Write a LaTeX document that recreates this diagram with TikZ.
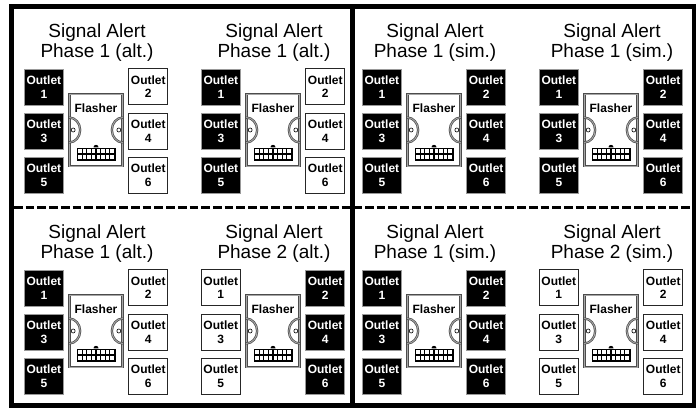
\documentclass[tikz,border=0pt]{standalone}
\usepackage{fontspec}
\setmainfont{Liberation Sans}
\usetikzlibrary{positioning}
\tikzset{
    outlet/.style={minimum width=39pt,minimum height=36pt,inner sep=0pt,align=center,
                   font=\fontsize{12}{13.5}\selectfont\bfseries},
    outletblack/.style={outlet,fill=black,draw=black!40,line width=.5pt,text=white},
    outletwhite/.style={outlet,fill=white,draw=black!85,line width=.8pt,text=black},
    flasher/.style={minimum width=53pt,minimum height=72pt,inner sep=0pt,fill=white,
                    flasherline},
    flasherline/.style={draw=black!70,line width=.7pt,double=black!35,double distance=.9pt},
    flashertext/.style={inner sep=0pt,font=\fontsize{12}{13.5}\selectfont\bfseries},
    socket/.style={minimum width=39pt,minimum height=13pt,inner sep=0pt,fill=black},
    title/.style={inner sep=0pt,align=center,font=\fontsize{19}{20.5}\selectfont},
    bay/.style={draw=black,line width=.6pt,fill=white,circle,minimum size=4pt,inner sep=0pt}
}
\newcommand{\alertpanel}[6]{
    \node [flasher]     (#1flasher) at (#2,#3)                                {};
    \node [flashertext] (#1text)    at ([yshift=22pt]#1flasher.center)        {Flasher};
    \node [socket]      (#1socket)  at ([yshift=-24pt]#1flasher.center)       {};
    \node [title]       (#1title)   at ([xshift=1pt,yshift=87.5pt]#1flasher.center) {Signal Alert\\#4};
    \node [#5] (#1out3) [left=5.5pt of #1flasher,yshift=-1pt]  {Outlet\\3};
    \node [#5] (#1out1) [above=7.5pt of #1out3]                {Outlet\\1};
    \node [#5] (#1out5) [below=7.5pt of #1out3]                {Outlet\\5};
    \node [#6] (#1out4) [right=5.5pt of #1flasher,yshift=-1pt] {Outlet\\4};
    \node [#6] (#1out2) [above=7.5pt of #1out4]                {Outlet\\2};
    \node [#6] (#1out6) [below=7.5pt of #1out4]                {Outlet\\6};
    \draw [flasherline] ([yshift=12.5pt]#1flasher.west)
        arc [start angle=90,end angle=-90,x radius=11pt,y radius=12.5pt];
    \draw [flasherline] ([yshift=12.5pt]#1flasher.east)
        arc [start angle=90,end angle=270,x radius=11pt,y radius=12.5pt];
    \node [bay] (#1bayl) at ([xshift=4pt]#1flasher.west) {};
    \node [bay] (#1bayr) at ([xshift=-4pt]#1flasher.east) {};
    \fill ([xshift=-2.5pt]#1socket.north) arc [start angle=180,end angle=0,radius=2.5pt];
    \foreach \col in {-3.5,-2.5,-1.5,-.5,.5,1.5,2.5,3.5}
        \foreach \row in {-2.9,2.9}
            \fill [white] ([xshift=\col*4.6pt-1.7pt,yshift=\row*1pt-2pt]#1socket.center)
                rectangle ++(3.4pt,4pt);
}
\begin{document}
\begin{tikzpicture}[x=1pt,y=1pt]
    \useasboundingbox (0,0) rectangle (699,408);
    \alertpanel{a}{96}{278}{Phase 1 (alt.)}{outletblack}{outletwhite}
    \alertpanel{b}{273}{278}{Phase 1 (alt.)}{outletblack}{outletwhite}
    \alertpanel{c}{434}{278}{Phase 1 (sim.)}{outletblack}{outletblack}
    \alertpanel{d}{611}{278}{Phase 1 (sim.)}{outletblack}{outletblack}
    \alertpanel{e}{96}{77}{Phase 1 (alt.)}{outletblack}{outletwhite}
    \alertpanel{f}{273}{77}{Phase 2 (alt.)}{outletwhite}{outletblack}
    \alertpanel{g}{434}{77}{Phase 1 (sim.)}{outletblack}{outletblack}
    \alertpanel{h}{611}{77}{Phase 2 (sim.)}{outletwhite}{outletwhite}
    \coordinate (midleft)   at (14,200.5);
    \coordinate (midright)  at (692,200.5);
    \coordinate (midtop)    at (352.5,401);
    \coordinate (midbottom) at (352.5,3);
    \draw [line width=2.5pt,dash pattern=on 8.7pt off 3pt] (midleft) -- (midright);
    \draw [line width=5pt] (midtop) -- (midbottom);
    \draw [line width=4.6pt] (11.5,401.3) rectangle (694,2.5);
\end{tikzpicture}
\end{document}
